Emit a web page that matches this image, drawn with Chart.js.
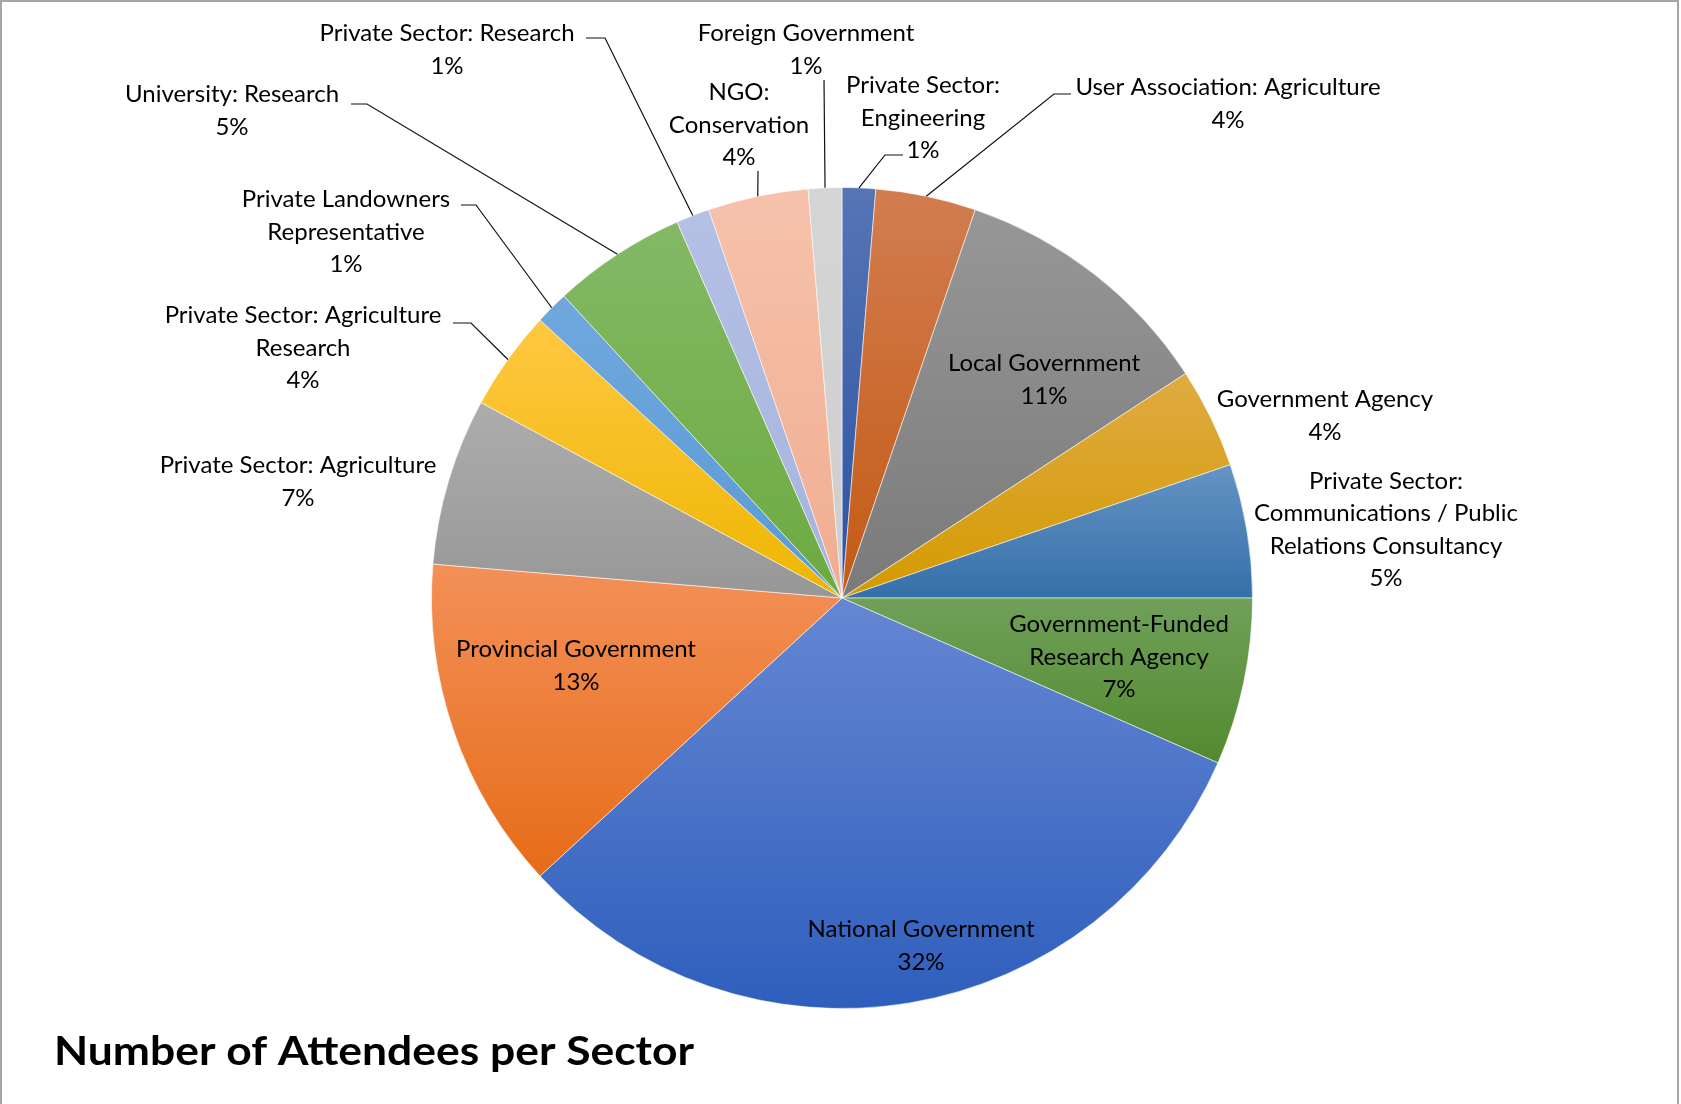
<!DOCTYPE html>
<html>
<head>
<meta charset="utf-8">
<title>Number of Attendees per Sector</title>
<script src="https://cdn.jsdelivr.net/npm/chart.js@4.4.1/dist/chart.umd.min.js"></script>
<style>
  html, body { margin: 0; padding: 0; background: #fff; }
  canvas { display: block; }
</style>
</head>
<body>
<canvas id="sector-pie" width="1681" height="1104"></canvas>
<script>
// data, clockwise from 12 o'clock
const categories = [
  'Private Sector: Engineering',
  'User Association: Agriculture',
  'Local Government',
  'Government Agency',
  'Private Sector: Communications / Public Relations Consultancy',
  'Government-Funded Research Agency',
  'National Government',
  'Provincial Government',
  'Private Sector: Agriculture',
  'Private Sector: Agriculture Research',
  'Private Landowners Representative',
  'University: Research',
  'Private Sector: Research',
  'NGO: Conservation',
  'Foreign Government'
];
const attendees = [1, 3, 8, 3, 4, 5, 24, 10, 5, 3, 1, 4, 1, 3, 1];
const chartTitle = 'Number of Attendees per Sector';

// gradient fill, light at top to dark at bottom of each slice
const colorsTop = ['#5775b5', '#d27d50', '#979797', '#dfab42', '#6593c4', '#70a05a',
  '#6587d3', '#f39058', '#adadad', '#ffc842', '#70a8dd', '#83b966', '#b4c0e4', '#f6c2ac', '#d5d5d5'];
const colorsBottom = ['#2c52a3', '#c45a14', '#7a7a7a', '#d49a00', '#3470a8', '#528a2e',
  '#2e5ebc', '#e66c18', '#979797', '#eeb600', '#5a9ad5', '#6caa3f', '#a5b3de', '#f0ad90', '#cecece'];

// label text as wrapped in the picture (percentage added below)
const labelLines = [
  ['Private Sector:', 'Engineering'],
  ['User Association: Agriculture'],
  ['Local Government'],
  ['Government Agency'],
  ['Private Sector:', 'Communications / Public', 'Relations Consultancy'],
  ['Government-Funded', 'Research Agency'],
  ['National Government'],
  ['Provincial Government'],
  ['Private Sector: Agriculture'],
  ['Private Sector: Agriculture', 'Research'],
  ['Private Landowners', 'Representative'],
  ['University: Research'],
  ['Private Sector: Research'],
  ['NGO:', 'Conservation'],
  ['Foreign Government']
];
// label block centre, relative to pie centre
const labelOffsets = [
  [81, -480], [386, -494], [202, -218], [483, -182], [544, -68],
  [277, 59], [79, 348], [-266, 68], [-544, -116], [-539, -250],
  [-496, -366], [-610, -487], [-395, -548], [-103, -473], [-36, -548]
];
// leader line: elbow point then end point, relative to pie centre
const leaderLayout = [
  [[43, -443], [61, -443]],
  [[212, -504], [229, -504]],
  null, null, null, null, null, null, null,
  [[-371, -275], [-389, -275]],
  [[-366, -393], [-381, -393]],
  [[-475, -494], [-491, -494]],
  [[-237, -560], [-256, -560]],
  [[-84, -427], [-84, -427]],
  [[-18, -518], [-18, -518]]
];

const total = attendees.reduce((a, b) => a + b, 0);

const sliceFill = (context) => {
  const chart = context.chart;
  const area = chart.chartArea;
  const i = context.dataIndex;
  if (!area) return colorsTop[i];
  const cx = (area.left + area.right) / 2;
  const cy = (area.top + area.bottom) / 2;
  const r = Math.min(area.width, area.height) / 2;
  let before = 0;
  for (let k = 0; k < i; k++) before += attendees[k];
  const a0 = -Math.PI / 2 + before / total * 2 * Math.PI;
  const a1 = a0 + attendees[i] / total * 2 * Math.PI;
  const ys = [cy, cy + r * Math.sin(a0), cy + r * Math.sin(a1)];
  [Math.PI / 2, 3 * Math.PI / 2].forEach((c) => {
    if (c > a0 && c < a1) ys.push(cy + r * Math.sin(c));
  });
  const top = Math.min(...ys);
  const bottom = Math.max(...ys);
  const g = chart.ctx.createLinearGradient(0, top, 0, bottom + 1);
  g.addColorStop(0, colorsTop[i]);
  g.addColorStop(1, colorsBottom[i]);
  return g;
};

const sectorLabels = {
  id: 'sectorLabels',
  afterDatasetsDraw(chart) {
    const ctx = chart.ctx;
    const meta = chart.getDatasetMeta(0);
    ctx.save();
    ctx.strokeStyle = '#111';
    ctx.lineWidth = 1.2;
    ctx.fillStyle = '#000';
    ctx.font = '24px Lato';
    ctx.textAlign = 'center';
    ctx.textBaseline = 'middle';
    meta.data.forEach((arc, i) => {
      const p = arc.getProps(['x', 'y', 'startAngle', 'endAngle', 'outerRadius'], true);
      const mid = (p.startAngle + p.endAngle) / 2;
      const px = p.x + Math.cos(mid) * p.outerRadius;
      const py = p.y + Math.sin(mid) * p.outerRadius;
      const leader = leaderLayout[i];
      if (leader) {
        ctx.beginPath();
        ctx.moveTo(px, py);
        ctx.lineTo(p.x + leader[0][0], p.y + leader[0][1]);
        ctx.lineTo(p.x + leader[1][0], p.y + leader[1][1]);
        ctx.stroke();
      }
      const pct = Math.round(attendees[i] / total * 100) + '%';
      const lines = labelLines[i].concat([pct]);
      const lx = p.x + labelOffsets[i][0];
      const ly = p.y + labelOffsets[i][1];
      lines.forEach((t, k) => {
        ctx.fillText(t, lx, ly + (k - (lines.length - 1) / 2) * 32.5);
      });
    });
    ctx.restore();
  },
  afterDraw(chart) {
    const ctx = chart.ctx;
    ctx.save();
    ctx.fillStyle = '#000';
    ctx.font = 'bold 41px Lato';
    ctx.textAlign = 'left';
    ctx.textBaseline = 'alphabetic';
    // stretch to the width of the original (narrower Calibri-like) title
    const w = ctx.measureText(chartTitle).width;
    ctx.translate(54, 1065);
    ctx.scale(640 / w, 1);
    ctx.fillText(chartTitle, 0, 0);
    ctx.setTransform(1, 0, 0, 1, 0, 0);
    // frame of the original picture (top, left, right)
    ctx.strokeStyle = '#a6a6a6';
    ctx.lineWidth = 2;
    ctx.beginPath();
    ctx.moveTo(1, 1104);
    ctx.lineTo(1, 1);
    ctx.lineTo(1678, 1);
    ctx.lineTo(1678, 1104);
    ctx.stroke();
    ctx.restore();
  }
};

new Chart(document.getElementById('sector-pie'), {
  type: 'pie',
  data: {
    labels: categories,
    datasets: [{
      data: attendees,
      backgroundColor: sliceFill,
      borderColor: 'rgba(255,255,255,0.55)',
      borderWidth: 1
    }]
  },
  options: {
    responsive: false,
    devicePixelRatio: 1,
    animation: false,
    layout: { padding: { left: 431, right: 428, top: 187, bottom: 95 } },
    plugins: {
      legend: { display: false },
      tooltip: { enabled: false },
      title: { display: false }
    }
  },
  plugins: [sectorLabels]
});
</script>
</body>
</html>
